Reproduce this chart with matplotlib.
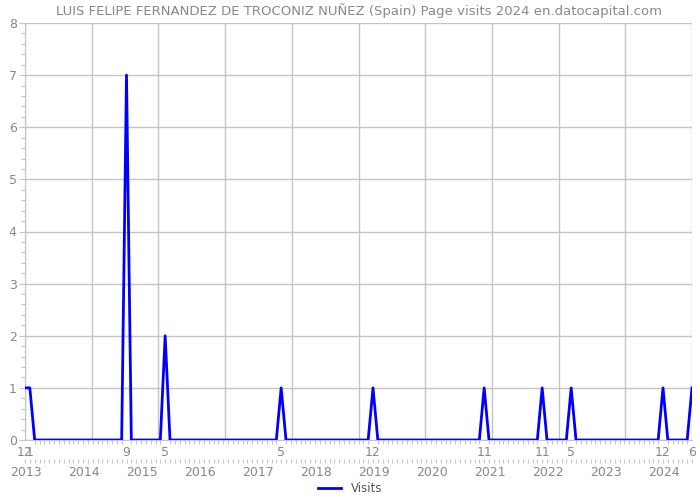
import numpy as np
import matplotlib
matplotlib.use("Agg")
import matplotlib.pyplot as plt
from matplotlib.ticker import MultipleLocator, FixedLocator

# monthly visits, Dec 2012 .. Jun 2024 (month index 0 = Dec 2012)
start_year, start_month = 2012, 12
n_months = 139
visits = np.zeros(n_months)
peaks = {0: 1, 1: 1, 21: 7, 29: 2, 53: 1, 72: 1, 95: 1, 107: 1, 113: 1, 132: 1, 138: 1}
for k, v in peaks.items():
    visits[k] = v

month_ticks = [0, 1, 21, 29, 53, 72, 95, 107, 113, 132, 138]
years = list(range(2013, 2025))

def month_label(i):
    return str((start_month - 1 + i) % 12 + 1)

gray = "#888888"
grid = "#c4c4c4"

fig = plt.figure(figsize=(7, 5), dpi=100)
ax = fig.add_axes([25 / 700, 0.12, 667 / 700, 0.834])

x = np.arange(n_months)
ax.plot(x, visits, color="#0000ff", lw=2, label="Visits", zorder=3)

ax.set_xlim(0, n_months - 1)
ax.set_ylim(0, 8)

ax.yaxis.set_major_locator(MultipleLocator(1))
ax.yaxis.set_minor_locator(MultipleLocator(0.2))
ax.grid(axis="y", color=grid, lw=1)
for gx in np.linspace(0, n_months - 1, 11):
    ax.axvline(gx, color=grid, lw=1, zorder=1)

ax.set_xticks(month_ticks)
ax.set_xticklabels([month_label(i) for i in month_ticks])
ax.xaxis.set_minor_locator(MultipleLocator(1))

for s in ["top", "right"]:
    ax.spines[s].set_visible(False)
for s in ["left", "bottom"]:
    ax.spines[s].set_color(grid)

ax.tick_params(axis="both", which="major", colors=gray, labelsize=9, length=0, pad=4)
ax.tick_params(axis="x", which="minor", color=grid, length=3, width=0.8)
ax.tick_params(axis="y", which="minor", color=grid, length=3, width=0.8)
ax.tick_params(axis="y", which="major", length=4, color=grid, pad=2)

sec = ax.secondary_xaxis(-0.045)
sec.spines["bottom"].set_visible(False)
sec.xaxis.set_major_locator(FixedLocator([12 * (y - 2013) + 0.2 for y in years]))
sec.set_xticklabels([str(y) for y in years])
sec.xaxis.set_minor_locator(MultipleLocator(1))
sec.tick_params(axis="x", which="major", colors=gray, labelsize=9, length=0, pad=5)
sec.tick_params(axis="x", which="minor", color=grid, length=3, width=0.8)

ax.set_title("LUIS FELIPE FERNANDEZ DE TROCONIZ NUÑEZ (Spain) Page visits 2024 en.datocapital.com",
             color=gray, fontsize=9.5, pad=6)

fig.legend(loc="lower center", bbox_to_anchor=(0.5, -0.012), frameon=False,
           fontsize=8.5, labelcolor="#555555", handlelength=2)

fig.savefig("out.png", dpi=100)
